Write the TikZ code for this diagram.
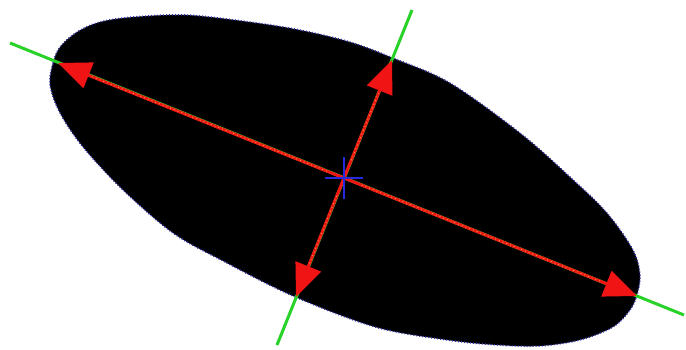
\documentclass[tikz,border=0pt]{standalone}
\usetikzlibrary{arrows.meta,calc}
\definecolor{axgreen}{RGB}{40,210,40}
\definecolor{axred}{RGB}{240,20,20}
\definecolor{rimblue}{RGB}{50,50,170}
\definecolor{crossblue}{RGB}{40,40,220}
\definecolor{speck}{RGB}{230,170,60}
\tikzset{
  axisline/.style={draw=axgreen, line width=3pt},
  axisarrow/.style={draw=axred, line width=3pt, -{Triangle[length=33pt,width=27pt]}},
  speckline/.style={draw=speck, line width=0.8pt, dash pattern=on 1pt off 3pt},
  rim/.style={draw=rimblue, line width=1.5pt, dash pattern=on 1pt off 2pt},
  crossline/.style={draw=crossblue, line width=1.6pt}
}
\begin{document}
\begin{tikzpicture}[x=1pt,y=-1pt]
\useasboundingbox (0,0) rectangle (686,349);
\def\blobpts{(50,85) (53,63) (60,47) (77,32) (100,22) (133,17) (187,15) (250,22) (300,30)
 (350,42) (393,58) (450,83) (520,133) (570,177) (607,213) (633,250) (640,275)
 (637,295) (630,310) (613,327) (580,340) (540,346) (497,345) (447,340) (375,327)
 (293,296) (223,261) (173,233) (123,190) (83,147) (60,113)}
% blob
\fill[black] plot[smooth cycle, tension=0.55] coordinates {\blobpts};
\draw[rim] plot[smooth cycle, tension=0.55] coordinates {\blobpts};
% coordinates
\coordinate (c) at (344,178);
\coordinate (majA) at (58,63);
\coordinate (majB) at (637,296);
\coordinate (minA) at (392,60);
\coordinate (minB) at (296,297);
\coordinate (gmajA) at (10,43);
\coordinate (gmajB) at (684,315);
\coordinate (gminA) at (412,10);
\coordinate (gminB) at (277,345);
% green axes
\draw[axisline] (gmajA) -- (gmajB);
\draw[axisline] (gminA) -- (gminB);
% red arrows
\draw[axisarrow] (c) -- (majA);
\draw[axisarrow] (c) -- (majB);
\draw[axisarrow] (c) -- (minA);
\draw[axisarrow] (c) -- (minB);
% speckles along the arrow shafts
\draw[speckline] ($(c)!0.06!(majA)$) -- ($(c)!0.88!(majA)$);
\draw[speckline] ($(c)!0.06!(majB)$) -- ($(c)!0.88!(majB)$);
\draw[speckline] ($(c)!0.15!(minA)$) -- ($(c)!0.72!(minA)$);
\draw[speckline] ($(c)!0.15!(minB)$) -- ($(c)!0.72!(minB)$);
% blue cross
\draw[crossline] ([xshift=-19pt]c) -- ([xshift=19pt]c);
\draw[crossline] ([yshift=-21pt]c) -- ([yshift=21pt]c);
\end{tikzpicture}
\end{document}
